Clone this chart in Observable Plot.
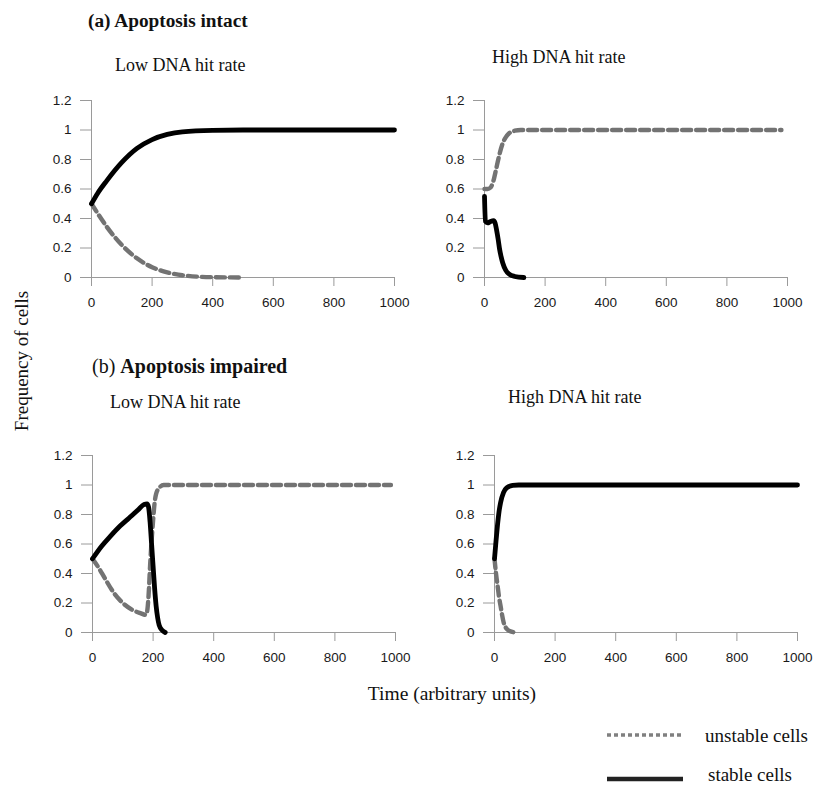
<!DOCTYPE html>
<html>
<head>
<meta charset="utf-8">
<script src="https://cdn.jsdelivr.net/npm/d3@7"></script>
<script src="https://cdn.jsdelivr.net/npm/@observablehq/plot@0.6"></script>
<style>
  html, body { margin: 0; padding: 0; background: #fff; }
  #wrap { position: relative; width: 814px; height: 787px; overflow: hidden; }
  .panel { position: absolute; }
  #overlay { position: absolute; left: 0; top: 0; }
</style>
</head>
<body>
<div id="wrap"></div>
<script>
// ---------- data ----------
const xTicks = [0, 200, 400, 600, 800, 1000];
const yTicks = [0, 0.2, 0.4, 0.6, 0.8, 1, 1.2];

// (a) Apoptosis intact, low DNA hit rate
const aLowStableTime = [0, 20, 50, 100, 150, 200, 250, 300, 400, 500, 1000];
const aLowStableFreq = [0.5, 0.57, 0.655, 0.78, 0.875, 0.935, 0.97, 0.988, 0.998, 1, 1];
const aLowUnstableTime = [0, 25, 50, 100, 150, 200, 250, 300, 400, 500];
const aLowUnstableFreq = [0.5, 0.42, 0.345, 0.22, 0.13, 0.07, 0.035, 0.015, 0.002, 0];

// (a) Apoptosis intact, high DNA hit rate
const aHighStableTime = [0, 3, 10, 20, 30, 35, 40, 45, 50, 55, 60, 70, 80, 100, 130];
const aHighStableFreq = [0.55, 0.38, 0.37, 0.38, 0.385, 0.37, 0.32, 0.26, 0.19, 0.14, 0.1, 0.05, 0.025, 0.007, 0];
const aHighUnstableTime = [0, 10, 20, 30, 40, 50, 60, 70, 80, 100, 120, 980];
const aHighUnstableFreq = [0.6, 0.6, 0.61, 0.66, 0.75, 0.84, 0.91, 0.95, 0.975, 0.995, 1, 1];

// (b) Apoptosis impaired, low DNA hit rate
const bLowStableTime = [0, 30, 60, 90, 120, 150, 170, 180, 185, 190, 195, 200, 205, 210, 215, 220, 230, 240];
const bLowStableFreq = [0.5, 0.585, 0.655, 0.72, 0.775, 0.83, 0.868, 0.872, 0.85, 0.75, 0.6, 0.45, 0.3, 0.18, 0.1, 0.05, 0.015, 0];
const bLowUnstableTime = [0, 20, 40, 70, 100, 130, 160, 175, 180, 185, 190, 195, 200, 205, 210, 220, 235, 985];
const bLowUnstableFreq = [0.5, 0.44, 0.37, 0.27, 0.2, 0.155, 0.13, 0.12, 0.14, 0.25, 0.45, 0.62, 0.76, 0.88, 0.94, 0.98, 1, 1];

// (b) Apoptosis impaired, high DNA hit rate
const bHighStableTime = [0, 5, 10, 15, 20, 30, 40, 60, 80, 1000];
const bHighStableFreq = [0.5, 0.62, 0.73, 0.82, 0.88, 0.95, 0.98, 0.997, 1, 1];
const bHighUnstableTime = [0, 5, 10, 15, 20, 25, 30, 40, 50, 70];
const bHighUnstableFreq = [0.5, 0.4, 0.32, 0.24, 0.18, 0.12, 0.07, 0.025, 0.01, 0];

const panelTitles = ["(a) Apoptosis intact", "(b) Apoptosis impaired"];
const subTitles = ["Low DNA hit rate", "High DNA hit rate"];
const legendLabels = ["unstable cells", "stable cells"];
const yLabel = "Frequency of cells";
const xLabel = "Time (arbitrary units)";

// ---------- helpers ----------
const zip = (ts, vs) => ts.map((t, i) => ({t, v: vs[i]}));
const fmtY = d => String(+d.toFixed(1));

const ML = 60, MR = 25, MT = 10, MB = 40, PW = 303, PH = 177;

function panel(stable, unstable, axisX, topY) {
  const chart = Plot.plot({
    width: ML + PW + MR,
    height: MT + PH + MB,
    marginLeft: ML, marginRight: MR, marginTop: MT, marginBottom: MB,
    x: {domain: [0, 1000], label: null},
    y: {domain: [0, 1.2], label: null},
    style: {fontFamily: "'Liberation Sans', Arial, sans-serif", fontSize: "13.5px", color: "#1a1a1a", background: "transparent", overflow: "visible"},
    marks: [
      Plot.axisX({ticks: xTicks, tickSize: 9, tickPadding: 11, tickFormat: d => String(d), stroke: "#9a9a9a", fill: "#1a1a1a", label: null}),
      Plot.axisY({ticks: yTicks, tickSize: 11, tickPadding: 9, tickFormat: fmtY, stroke: "#9a9a9a", fill: "#1a1a1a", label: null}),
      Plot.ruleY([0], {stroke: "#9a9a9a"}),
      Plot.ruleX([0], {stroke: "#9a9a9a"}),
      Plot.line(unstable, {x: "t", y: "v", stroke: "#737373", strokeWidth: 4.4, strokeDasharray: "9,5", curve: "monotone-x"}),
      Plot.line(stable, {x: "t", y: "v", stroke: "#000", strokeWidth: 4.8, curve: "monotone-x"})
    ]
  });
  chart.classList.add("panel");
  chart.style.left = (axisX - ML) + "px";
  chart.style.top = (topY - MT) + "px";
  document.getElementById("wrap").appendChild(chart);
}

panel(zip(aLowStableTime, aLowStableFreq), zip(aLowUnstableTime, aLowUnstableFreq), 91, 100);
panel(zip(aHighStableTime, aHighStableFreq), zip(aHighUnstableTime, aHighUnstableFreq), 484, 100);
panel(zip(bLowStableTime, bLowStableFreq), zip(bLowUnstableTime, bLowUnstableFreq), 92, 455);
panel(zip(bHighStableTime, bHighStableFreq), zip(bHighUnstableTime, bHighUnstableFreq), 494, 455);

// ---------- text & legend overlay ----------
const ns = "http://www.w3.org/2000/svg";
const svg = document.createElementNS(ns, "svg");
svg.setAttribute("id", "overlay");
svg.setAttribute("width", 814);
svg.setAttribute("height", 787);
svg.style.fontFamily = "'Liberation Serif', 'Times New Roman', serif";
svg.style.pointerEvents = "none";
document.getElementById("wrap").appendChild(svg);

function txt(s, x, y, size, opts = {}) {
  const t = document.createElementNS(ns, "text");
  t.setAttribute("x", x);
  t.setAttribute("y", y);
  t.setAttribute("font-size", size);
  t.setAttribute("fill", "#111");
  if (opts.weight) t.setAttribute("font-weight", opts.weight);
  if (opts.anchor) t.setAttribute("text-anchor", opts.anchor);
  if (opts.transform) t.setAttribute("transform", opts.transform);
  t.textContent = s;
  svg.appendChild(t);
  return t;
}

txt(panelTitles[0], 88, 27, 19.3, {weight: "bold"});
txt(subTitles[0], 115, 71, 18);
txt(subTitles[1], 492, 63, 18);
// (b) label: prefix regular, rest bold
const tb = document.createElementNS(ns, "text");
tb.setAttribute("x", 92); tb.setAttribute("y", 373); tb.setAttribute("font-size", 20); tb.setAttribute("fill", "#111");
const [pre, ...rest] = panelTitles[1].split(" ");
const s1 = document.createElementNS(ns, "tspan"); s1.textContent = pre + " ";
const s2 = document.createElementNS(ns, "tspan"); s2.setAttribute("font-weight", "bold"); s2.textContent = rest.join(" ");
tb.appendChild(s1); tb.appendChild(s2); svg.appendChild(tb);
txt(subTitles[0], 110, 408, 18);
txt(subTitles[1], 508, 403, 18);

txt(yLabel, 0, 0, 19, {anchor: "middle", transform: "translate(28,361) rotate(-90)"});
txt(xLabel, 452, 700, 19.5, {anchor: "middle"});

function legLine(y, stroke, width, dash) {
  const l = document.createElementNS(ns, "line");
  l.setAttribute("x1", 607); l.setAttribute("x2", 683);
  l.setAttribute("y1", y); l.setAttribute("y2", y);
  l.setAttribute("stroke", stroke); l.setAttribute("stroke-width", width);
  if (dash) l.setAttribute("stroke-dasharray", dash);
  svg.appendChild(l);
}
legLine(735, "#808080", 3.5, "4,3");
txt(legendLabels[0], 705, 742, 19);
legLine(779, "#222", 4.5, null);
txt(legendLabels[1], 708, 781, 19);
</script>
</body>
</html>
